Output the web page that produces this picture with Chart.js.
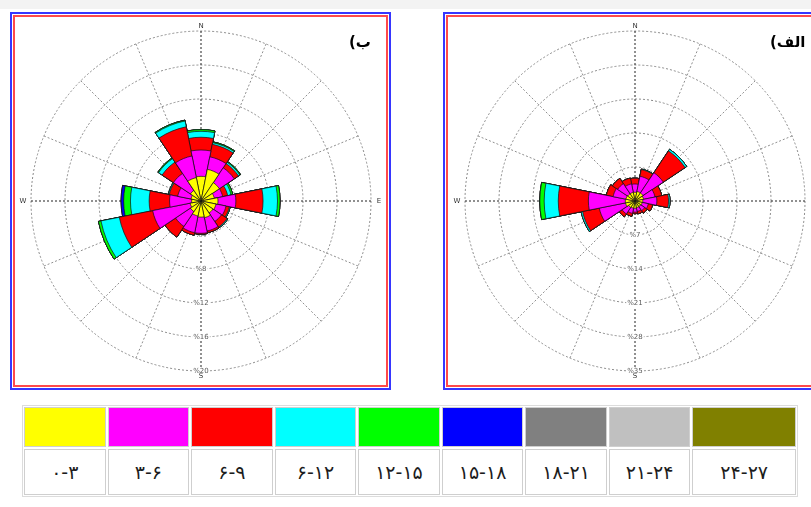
<!DOCTYPE html>
<html><head><meta charset="utf-8">
<script src="https://cdn.jsdelivr.net/npm/chart.js@4"></script>
<style>
html,body{margin:0;padding:0;background:#fff;width:811px;height:507px;overflow:hidden;position:relative;font-family:"DejaVu Sans",sans-serif;}
.topband{position:absolute;left:0;top:0;width:811px;height:9px;background:#f3f3f3;}
.frame{position:absolute;top:12px;height:374px;border:2px solid #3636ff;box-sizing:content-box;}
.frame .inner{position:absolute;left:1px;top:1px;right:1px;bottom:1px;border:2px solid #ff4a4a;}
#fb{left:10px;width:377px;}
#fa{left:443px;width:377px;}
canvas{position:absolute;}
.tag{position:absolute;top:33px;display:flex;flex-direction:row;direction:ltr;font:bold 15px "DejaVu Sans",sans-serif;color:#000;white-space:nowrap;}
.tag span{display:block;}
#legend{position:absolute;left:22px;top:405px;width:772px;padding:1px;border:1px solid #dcdcdc;display:grid;grid-template-columns:repeat(8,1fr) 1.27fr;grid-template-rows:40px 46px;gap:2px;}
#legend div{border:1px solid #cfcfcf;box-sizing:border-box;}
#legend .txt{background:#fff;display:flex;align-items:center;justify-content:center;font:19px "DejaVu Sans",sans-serif;color:#1c1c1c;direction:ltr;}
</style>
</head><body>
<div class="topband"></div>
<div class="frame" id="fb"><div class="inner"></div></div>
<div class="frame" id="fa"><div class="inner"></div></div>
<canvas id="roseB" width="366" height="366" style="left:18px;top:18px"></canvas>
<canvas id="roseA" width="366" height="366" style="left:452px;top:18px"></canvas>
<div class="tag" style="left:349px"><span dir="ltr">(</span><span dir="rtl">ب</span></div>
<div class="tag" style="left:770px"><span dir="ltr">(</span><span dir="rtl">الف</span></div>
<div id="legend"></div>
<script>
// ---- categories ----
const directions = ['N','NNE','NE','ENE','E','ESE','SE','SSE','S','SSW','SW','WSW','W','WNW','NW','NNW'];
const compassLabels = ['N','E','S','W'];
const speedClasses = ['۰-۳','۳-۶','۶-۹','۶-۱۲','۱۲-۱۵','۱۵-۱۸','۱۸-۲۱','۲۱-۲۴','۲۴-۲۷'];

// ---- panel (ب) : frequency (%) per speed class, by direction N..NNW ----
const b_0_3   = [2.9,3.8,2.6,1.6,2.0,1.8,1.7,2.0,1.9,1.8,1.5,1.3,1.1,1.2,1.5,2.8];
const b_3_6   = [3.1,1.5,2.1,1.0,2.1,1.2,1.2,1.6,1.9,2.0,2.1,4.5,2.6,1.6,2.4,2.6];
const b_6_9   = [1.5,1.5,0.6,0.6,3.2,0.4,0.8,0.2,0.1,0.3,1.5,4.0,2.4,1.0,1.6,3.5];
const b_9_12  = [0.7,0.2,0.2,0.4,1.7,0.1,0.1,0,0,0,0,2.2,2.2,0.1,0.5,0.7];
const b_12_15 = [0.2,0.1,0.1,0.2,0.3,0,0,0,0,0,0,0.3,0.8,0,0.1,0.1];
const b_15_18 = [0,0,0,0,0,0,0,0,0,0,0,0,0.3,0,0,0];
const b_18_21 = [0,0,0,0,0,0,0,0,0,0,0,0,0,0,0,0];
const b_21_24 = [0,0,0,0,0,0,0,0,0,0,0,0,0,0,0,0];
const b_24_27 = [0,0,0,0,0,0,0,0,0,0,0,0,0,0,0,0];
const ringTicksB = [4,8,12,16,20];

// ---- panel (الف) ----
const a_0_3   = [1.8,2.0,2.0,1.8,1.6,1.5,1.4,1.4,1.5,1.5,1.6,2.0,2.0,1.9,1.8,1.8];
const a_3_6   = [1.7,3.2,5.0,2.4,2.9,1.3,1.0,0.8,0.8,1.1,1.6,5.5,7.6,2.7,2.5,1.8];
const a_6_9   = [1.2,1.4,5.4,1.4,2.4,0.9,0.6,0.5,0.3,0.6,0.7,3.5,6.2,1.4,1.3,1.2];
const a_9_12  = [0,0.1,0.4,0,0.3,0,0,0,0,0,0,0.3,2.9,0,0,0];
const a_12_15 = [0,0,0,0,0,0,0,0,0,0,0,0,0.9,0,0,0];
const a_15_18 = [0,0,0,0,0,0,0,0,0,0,0,0,0,0,0,0];
const a_18_21 = [0,0,0,0,0,0,0,0,0,0,0,0,0,0,0,0];
const a_21_24 = [0,0,0,0,0,0,0,0,0,0,0,0,0,0,0,0];
const a_24_27 = [0,0,0,0,0,0,0,0,0,0,0,0,0,0,0,0];
const ringTicksA = [7,14,21,28,35];

const classColors = ['#ffff00','#ff00ff','#ff0000','#00ffff','#00ff00','#0000ff','#808080','#c0c0c0','#808000'];

// legend table
const legend = document.getElementById('legend');
classColors.forEach(c => { const d = document.createElement('div'); d.style.background = c; legend.appendChild(d); });
speedClasses.forEach(t => { const d = document.createElement('div'); d.className = 'txt'; d.textContent = t; legend.appendChild(d); });

const roseLabels = {
  id: 'roseLabels',
  beforeDatasetsDraw(chart) {
    const s = chart.scales.g, ctx = chart.ctx;
    ctx.save();
    ctx.font = '7px "DejaVu Sans", sans-serif';
    ctx.textAlign = 'center'; ctx.textBaseline = 'middle';
    s.ticks.forEach(t => {
      if (t.value === 0) return;
      const d = s.getDistanceFromCenterForValue(t.value);
      const txt = '%' + t.value;
      const w = ctx.measureText(txt).width;
      ctx.fillStyle = '#fff';
      ctx.fillRect(s.xCenter - w / 2 - 1, s.yCenter + d - 4, w + 2, 8);
      ctx.fillStyle = '#5a5a5a';
      ctx.fillText(txt, s.xCenter, s.yCenter + d);
    });
    ctx.restore();
  },
  afterDraw(chart) {
    const s = chart.scales.g, ctx = chart.ctx;
    ctx.save();
    ctx.font = '7px "DejaVu Sans", sans-serif';
    ctx.textAlign = 'center'; ctx.textBaseline = 'middle';
    ctx.fillStyle = '#333';
    compassLabels.forEach((lab, k) => {
      const idx = k * 4;
      const p = s.getPointPosition(idx, s.drawingArea + (k % 2 ? 8 : 5));
      ctx.fillText(lab, p.x, p.y);
    });
    ctx.restore();
  }
};

function makeRose(id, classArrays, ringTicks) {
  const max = ringTicks[ringTicks.length - 1];
  const step = ringTicks[0];
  let run = directions.map(() => 0);
  const datasets = classArrays.map((arr, k) => {
    run = run.map((v, i) => v + arr[i]);
    return { label: speedClasses[k], data: run.slice(), backgroundColor: classColors[k],
             borderColor: '#111', borderWidth: 0.7, rAxisID: 'r' };
  });
  new Chart(document.getElementById(id), {
    type: 'polarArea',
    data: { labels: directions, datasets },
    options: {
      responsive: false, animation: false,
      layout: { padding: 13 },
      plugins: { legend: { display: false }, tooltip: { enabled: false } },
      scales: {
        r: { type: 'radialLinear', min: 0, max: max, startAngle: -11.25,
             ticks: { display: false, stepSize: step }, grid: { display: false },
             angleLines: { display: false }, pointLabels: { display: false } },
        g: { type: 'radialLinear', axis: 'r', min: 0, max: max, startAngle: 0,
             ticks: { display: false, stepSize: step },
             pointLabels: { display: false },
             grid: { circular: true, color: '#8a8a8a', lineWidth: 1 },
             border: { dash: [2, 2] },
             angleLines: { display: true, lineWidth: 1, borderDash: [2, 2],
                           color: c => (c.index % 4 === 0 ? '#222' : '#8f8f8f') } }
      }
    },
    plugins: [roseLabels]
  });
}

makeRose('roseB', [b_0_3,b_3_6,b_6_9,b_9_12,b_12_15,b_15_18,b_18_21,b_21_24,b_24_27], ringTicksB);
makeRose('roseA', [a_0_3,a_3_6,a_6_9,a_9_12,a_12_15,a_15_18,a_18_21,a_21_24,a_24_27], ringTicksA);
</script>
</body></html>
